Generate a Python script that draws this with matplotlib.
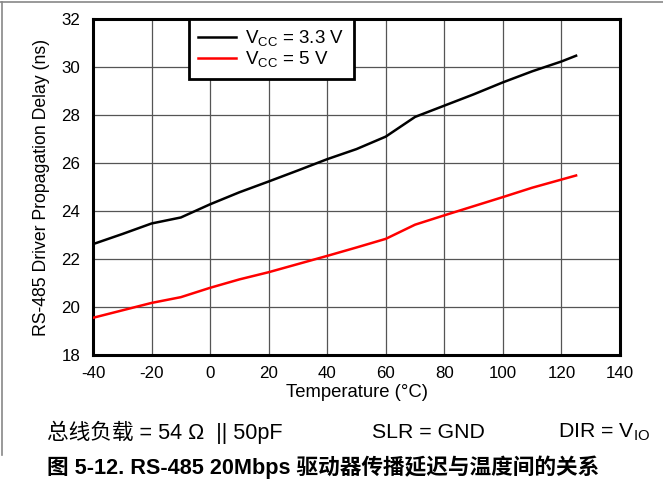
import matplotlib
matplotlib.use("Agg")
import matplotlib.pyplot as plt
from matplotlib.lines import Line2D

plt.rcParams['font.family'] = ['Liberation Sans', 'Noto Sans CJK SC', 'DejaVu Sans']
plt.rcParams['mathtext.fontset'] = 'custom'
plt.rcParams['mathtext.rm'] = 'Liberation Sans'
plt.rcParams['mathtext.it'] = 'Liberation Sans:italic'
plt.rcParams['mathtext.bf'] = 'Liberation Sans:bold'
plt.rcParams['axes.unicode_minus'] = False

temperature = [-40, -30, -20, -10, 0, 10, 20, 30, 40, 50, 60, 70, 80, 90, 100, 110, 120, 125]
delay_33v = [22.62, 23.04, 23.48, 23.73, 24.28, 24.78, 25.23, 25.69, 26.16, 26.58, 27.1, 27.92, 28.39, 28.86, 29.36, 29.82, 30.23, 30.47]
delay_5v = [19.55, 19.86, 20.17, 20.41, 20.8, 21.15, 21.45, 21.79, 22.13, 22.48, 22.84, 23.43, 23.82, 24.2, 24.58, 24.97, 25.31, 25.48]

series_labels = [r'$\mathrm{V_{CC}}$ = 3.3 V', r'$\mathrm{V_{CC}}$ = 5 V']
x_ticks = [-40, -20, 0, 20, 40, 60, 80, 100, 120, 140]
y_ticks = [18, 20, 22, 24, 26, 28, 30, 32]

W, H = 663, 480
fig = plt.figure(figsize=(W / 100, H / 100), dpi=100)
ax = fig.add_axes([93 / W, 1 - 355 / H, (620 - 93) / W, (355 - 19) / H])

ax.plot(temperature, delay_33v, color='black', lw=1.8, label=series_labels[0], zorder=3)
ax.plot(temperature, delay_5v, color='#ff0000', lw=1.8, label=series_labels[1], zorder=3)

ax.set_xlim(-40, 140)
ax.set_ylim(18, 32)
ax.set_xticks(x_ticks)
ax.set_yticks(y_ticks)
ax.tick_params(length=0, labelsize=12.2, colors='black')
ax.tick_params(axis='y', pad=9)
ax.tick_params(axis='x', pad=8)
ax.grid(True, color='#555555', lw=0.9)
ax.set_axisbelow(True)
for s in ax.spines.values():
    s.set_linewidth(2.2)
    s.set_color('black')

ax.set_xlabel('Temperature (°C)', fontsize=13.3, labelpad=2)
ax.set_ylabel('RS-485 Driver Propagation Delay (ns)', fontsize=12.7, labelpad=8)

leg = ax.legend(loc='upper left', bbox_to_anchor=((189 - 93) / 527, 1.0), borderaxespad=0,
                fancybox=False, framealpha=1, edgecolor='black', fontsize=13.5,
                handlelength=2.0, handletextpad=0.5, borderpad=0.5, labelspacing=0.05)
leg.get_frame().set_linewidth(2.0)
leg.set_zorder(5)

fig.text(47 / W, 1 - 432 / H, '总线负载 = 54 Ω  || 50pF', fontsize=15.6, va='center', ha='left')
fig.text(372 / W, 1 - 432 / H, 'SLR = GND', fontsize=15.3, va='center', ha='left')
fig.text(558 / W, 1 - 432 / H, r'DIR = $\mathrm{V_{IO}}$', fontsize=15.3, va='center', ha='left')
fig.text(47 / W, 1 - 467 / H, '图 5-12. RS-485 20Mbps 驱动器传播延迟与温度间的关系',
         fontsize=15.6, fontweight='bold', va='center', ha='left')

fig.add_artist(Line2D([0, 1], [1 - 2 / H, 1 - 2 / H], transform=fig.transFigure, color='#888888', lw=1.2))
fig.add_artist(Line2D([1.5 / W, 1.5 / W], [1 - 2 / H, 1 - 455 / H], transform=fig.transFigure, color='#888888', lw=1.2))

fig.savefig('out.png', dpi=100)
